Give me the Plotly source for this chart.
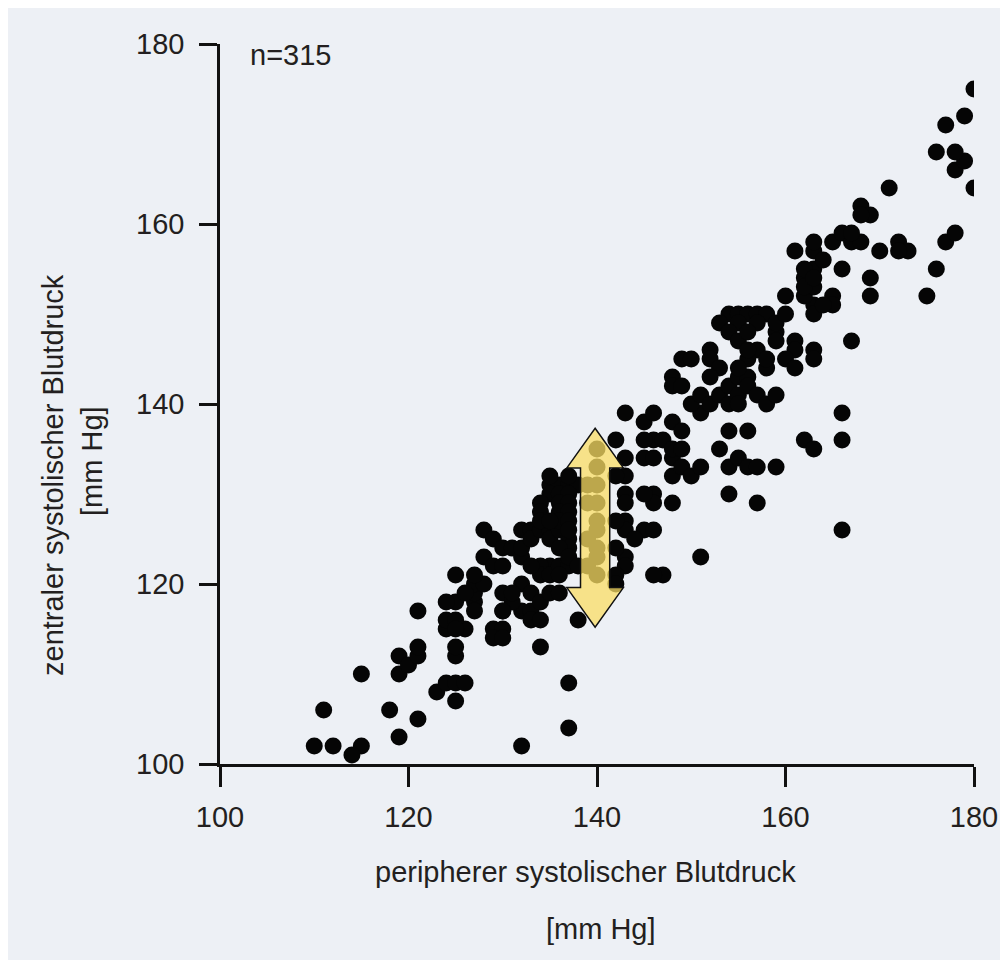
import plotly.graph_objects as go

# peripheral systolic BP (x) and central systolic BP (y), mm Hg
x_lowleft = [110,112,115,114,111,115,118,119,121,119,119,120,121,121,121,123,124,125,126,125,125,125,124,126,124,125,125,125,124,125,127,127,127,128,128,129,128,129,130,130,130,130,129,130,129,130,132,137,137,134,138]
y_lowleft = [102,102,102,101,106,110,106,103,105,110,112,111,112,113,117,108,109,109,109,107,112,113,115,115,116,116,118,121,118,115,118,119,120,120,123,122,126,125,124,122,119,117,115,115,114,114,102,109,104,113,116]

x_leftarrow = [131,132,132,132,133,133,134,135,135,136,137,137,136,135,134,134,133,132,133,132,133,133,134,134,135,136,135,136,137,137,138,136,131,131,130,126,127,127,
               135,136,137,138,135,136,137,134,136,137,134,136,137,134,136,137,137,135,135,137]
y_leftarrow = [124,123,124,126,126,125,126,126,125,126,125,124,124,122,122,121,122,120,119,117,117,116,116,118,119,119,121,122,122,123,122,121,118,119,117,119,117,121,
               131,131,131,131,130,130,130,129,129,129,128,128,128,127,127,127,126,127,132,132]

x_under = [140,139,140,139,140,140,140,139,140,140,140,139,140]
y_under = [135,131,131,129,129,127,126,125,124,123,121,122,133]

x_right = [143,145,146,142,143,143,142,145,146,146,147,145,148,148,148,146,146,148,143,143,143,143,145,146,144,143,143,142,142,147,142,146,145,142,
           149,150,148,149,151,153,149,151]
y_right = [139,138,139,136,134,132,132,134,134,136,136,136,138,134,132,130,129,129,130,129,127,126,126,126,125,123,122,121,124,121,120,121,130,127,
           133,132,135,135,123,135,137,133]

x_mid = [151,150,151,152,148,148,149,149,150,152,152,153,152,153,154,154,155,156,155,156,155,157,158,159,154,156,154,155,156,157,159,154,157,
         154,153,155,156,157,158,155,157,154,155,156,157,156,155,158,156,159,159,161,161,160,163,163,161,158,159,160,160]
y_mid = [139,140,141,140,143,142,142,145,145,146,145,144,143,141,140,142,143,143,141,142,140,141,140,141,137,137,133,134,133,133,133,130,129,
         150,149,150,150,150,150,149,149,148,147,148,146,145,144,144,146,148,147,147,146,145,146,145,144,145,149,150,152]

x_upper = [162,163,166,166,166,167,163,163,165,165,164,162,163,162,163,162,166,169,169,161,163,164,163,165,166,167,168,167,168,169,168,170,172,173,172,171,162,163]
y_upper = [136,135,139,136,126,147,151,150,152,151,151,152,153,154,155,155,155,154,152,157,157,156,158,158,159,158,158,159,162,161,161,157,158,157,157,164,153,154]

x_top = [177,178,176,175,180,178,179,178,176,177,179,180]
y_top = [158,159,155,152,164,166,167,168,168,171,172,175]

x_all = x_lowleft + x_leftarrow + x_under + x_right + x_mid + x_upper + x_top
y_all = y_lowleft + y_leftarrow + y_under + y_right + y_mid + y_upper + y_top

tick_vals = [100, 120, 140, 160, 180]
x_title = "peripherer systolischer Blutdruck"
y_title = "zentraler systolischer Blutdruck"
unit = "[mm Hg]"
n_label = "n=315"

# arrow (annotation) geometry in data units
arrow_x = 139.8
arrow_top, arrow_bottom = 137.3, 115.2
head_len, head_half, shaft_half = 4.4, 3.0, 1.55

BG = "#edf0f5"
TXT = "#231f20"
FONT = "Liberation Sans, Arial, sans-serif"

fig = go.Figure()
fig.add_trace(go.Scatter(
    x=x_all, y=y_all, mode="markers",
    marker=dict(size=17, color="#050505", line=dict(width=0)),
    showlegend=False, hoverinfo="x+y"))

ax = arrow_x
p = [
    (ax, arrow_top),
    (ax + head_half, arrow_top - head_len),
    (ax + shaft_half, arrow_top - head_len),
    (ax + shaft_half, arrow_bottom + head_len),
    (ax + head_half, arrow_bottom + head_len),
    (ax, arrow_bottom),
    (ax - head_half, arrow_bottom + head_len),
    (ax - shaft_half, arrow_bottom + head_len),
    (ax - shaft_half, arrow_top - head_len),
    (ax - head_half, arrow_top - head_len),
]
path = "M " + " L ".join(f"{a},{b}" for a, b in p) + " Z"
fig.add_shape(type="path", path=path, xref="x", yref="y",
              fillcolor="rgba(250,222,100,0.75)", line=dict(color="#111", width=1.5))

ann_font = dict(family=FONT, size=29, color=TXT)
fig.add_annotation(text=n_label, xref="paper", yref="paper", x=0.037, y=0.985,
                   xanchor="left", yanchor="middle", showarrow=False, font=ann_font)
fig.add_annotation(text=x_title, xref="paper", yref="paper", x=0.485, y=-0.1500,
                   xanchor="center", yanchor="middle", showarrow=False, font=ann_font)
fig.add_annotation(text=unit, xref="paper", yref="paper", x=0.505, y=-0.2292,
                   xanchor="center", yanchor="middle", showarrow=False, font=ann_font)
fig.add_annotation(text=y_title, xref="paper", yref="paper", x=-0.2215, y=0.4014,
                   xanchor="center", yanchor="middle", textangle=-90, showarrow=False, font=ann_font)
fig.add_annotation(text=unit, xref="paper", yref="paper", x=-0.1698, y=0.4208,
                   xanchor="center", yanchor="middle", textangle=-90, showarrow=False, font=ann_font)

axis_common = dict(range=[100, 180], tickvals=tick_vals, showgrid=False, zeroline=False,
                   showline=True, linecolor="#111", linewidth=2.5, ticks="outside",
                   tickcolor="#111", tickwidth=2.5,
                   tickfont=dict(family=FONT, size=29, color=TXT))
fig.update_xaxes(**axis_common, ticklen=20, ticklabelstandoff=5)
fig.update_yaxes(**axis_common, ticklen=18, ticklabelstandoff=9)

fig.update_layout(
    width=1008, height=960,
    margin=dict(l=212, r=42, t=36, b=204, autoexpand=False),
    paper_bgcolor=BG, plot_bgcolor=BG,
)
fig.write_html("out.html")
